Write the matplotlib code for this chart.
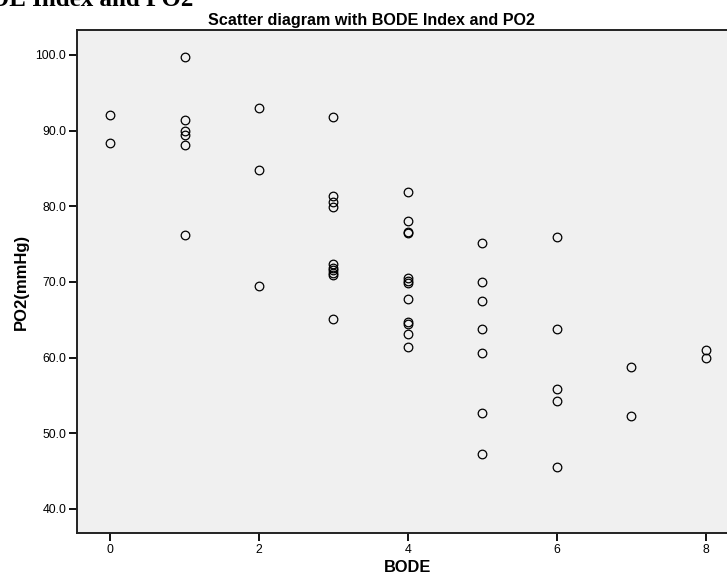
import matplotlib
matplotlib.use('Agg')
import matplotlib.pyplot as plt

# --- Données ---
BODE_0 = [92.0, 88.3]
BODE_1 = [99.7, 91.4, 90.0, 89.4, 88.1, 76.2]
BODE_2 = [93.0, 84.8, 69.5]
BODE_3 = [91.8, 81.3, 80.5, 79.9, 72.3, 71.9, 71.6, 71.2, 70.9, 65.1]
BODE_4 = [81.9, 78.0, 76.6, 76.4, 70.5, 70.1, 69.8, 67.8, 64.7, 64.4, 63.1, 61.4]
BODE_5 = [75.1, 70.0, 67.5, 63.8, 60.6, 52.6, 47.2]
BODE_6 = [75.9, 63.8, 55.8, 54.2, 45.5]
BODE_7 = [58.7, 52.3]
BODE_8 = [61.0, 60.0]

groupes = [BODE_0, BODE_1, BODE_2, BODE_3, BODE_4, BODE_5, BODE_6, BODE_7, BODE_8]
bode = []
po2 = []
for i, valeurs in enumerate(groupes):
    bode += [i] * len(valeurs)
    po2 += valeurs

x_ticks = [0, 2, 4, 6, 8]
y_ticks = [40, 50, 60, 70, 80, 90, 100]

W, H = 727, 582
fig = plt.figure(figsize=(W / 100, H / 100), dpi=100)
# axe volontairement coupé à droite comme sur l'original
ax = fig.add_axes([77.3 / W, 1 - 533 / H, (738.4 - 77.3) / W, (533 - 30) / H])
ax.set_facecolor('#f0f0f0')

ax.plot(bode, po2, linestyle='none', marker='o', markersize=6.2,
        markerfacecolor='none', markeredgecolor='black', markeredgewidth=0.9)

ax.set_xlim(-0.442, 8.442)
ax.set_ylim(36.8, 103.3)
ax.set_xticks(x_ticks)
ax.set_xticklabels([str(t) for t in x_ticks])
ax.set_yticks(y_ticks)
ax.set_yticklabels([f'{t:.1f}' for t in y_ticks])

for side in ['left', 'bottom', 'top', 'right']:
    ax.spines[side].set_linewidth(1.4)
    ax.spines[side].set_color('#222222')

ax.tick_params(direction='out', length=6, width=1.3, labelsize=8.8,
               colors='black', pad=2)
for lab in ax.get_xticklabels() + ax.get_yticklabels():
    lab.set_family('Liberation Sans')

ax.set_xlabel('BODE', fontsize=11.8, fontweight='bold', family='Liberation Sans', labelpad=3)
ax.set_ylabel('PO2(mmHg)', fontsize=12, fontweight='bold', family='Liberation Sans', labelpad=5)

fig.text(371 / W, 1 - 24.5 / H, 'Scatter diagram with BODE Index and PO2',
         ha='center', va='baseline', fontsize=11.6, fontweight='bold',
         family='Liberation Sans')

# titre principal tronqué en haut à gauche
fig.text(193 / W, 1 - 6 / H, 'Scatter diagram with BODE Index and PO2',
         ha='right', va='baseline', fontsize=18, fontweight='bold',
         family='Liberation Serif')

fig.savefig('out.png', dpi=100)
plt.close(fig)
